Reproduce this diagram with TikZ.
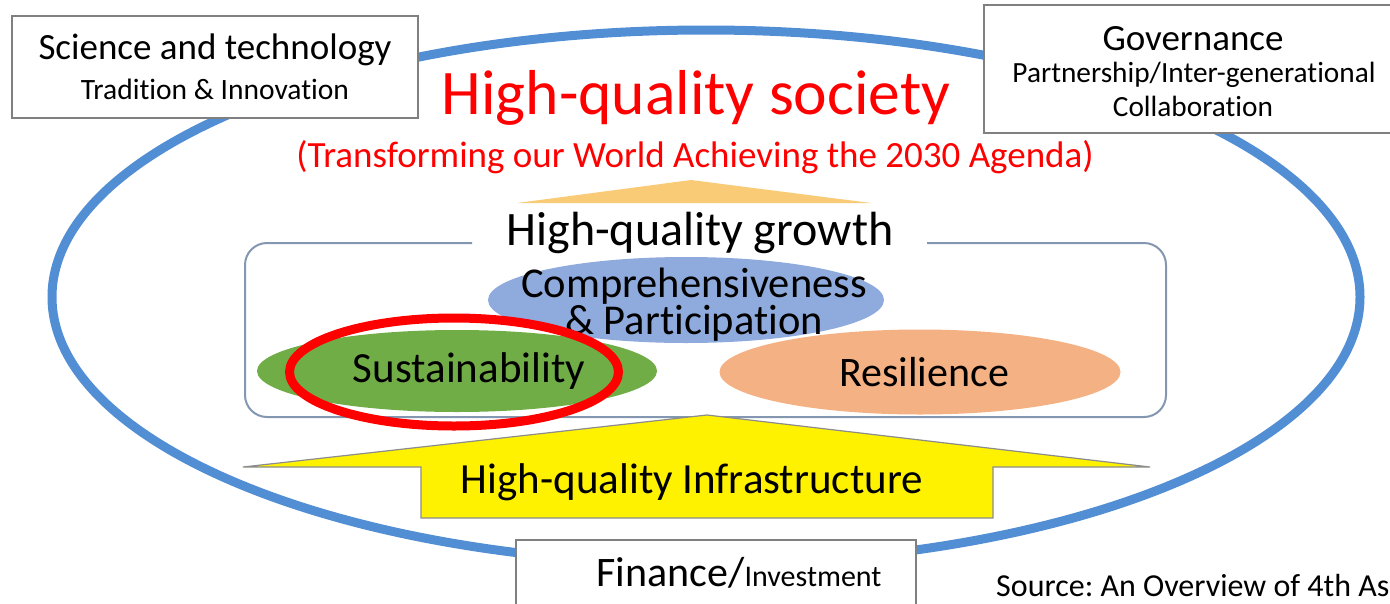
\documentclass[tikz,border=0pt]{standalone}
\usepackage{fontspec}
\setmainfont{Carlito}[Ligatures=NoCommon]
\frenchspacing
\usetikzlibrary{shapes.geometric}
\definecolor{ringblue}{RGB}{82,142,212}
\definecolor{boxgray}{RGB}{128,128,128}
\definecolor{frameblue}{RGB}{132,151,176}
\definecolor{compblue}{RGB}{143,170,220}
\definecolor{susgreen}{RGB}{112,173,71}
\definecolor{resorange}{RGB}{244,177,131}
\definecolor{triorange}{RGB}{249,203,118}
\definecolor{arrowedge}{RGB}{140,140,140}
\newcommand{\fs}[2]{\fontsize{#1}{#2}\selectfont}
\tikzset{
  infobox/.style={draw=boxgray, line width=1.5pt, fill=white},
  blob/.style={ellipse, inner sep=0pt, text=black},
  plain/.style={inner sep=0pt, align=center},
}
\begin{document}
\begin{tikzpicture}[x=1pt,y=-1pt]
\useasboundingbox (0,0) rectangle (1390,603);
\clip (0,0) rectangle (1390,603);
% outer ring
\draw[ringblue, line width=9pt] (706,297) ellipse [x radius=654pt, y radius=267pt];
% top-left box
\draw[infobox] (12,16) rectangle (418,118);
\node[plain, font=\fs{37}{44}] (sci) at (215,50) {Science and technology};
\node[plain, font=\fs{29.5}{34}] (trad) at (215,89) {Tradition \& Innovation};
% top-right box
\draw[infobox] (984,5) rectangle (1400,133);
\node[plain, font=\fs{37}{44}] (gov) at (1193,39) {Governance};
\node[plain, font=\fs{29.3}{34}] (part) at (1194,75) {Partnership/Inter-generational};
\node[plain, font=\fs{29.3}{34}] (coll) at (1193,106) {Collaboration};
% titles
\node[plain, text=red, font=\fs{63.5}{70}] (society) at (696,98) {High-quality society};
\node[plain, text=red, font=\fs{37}{42}] (agenda) at (695,157) {(Transforming our World Achieving the 2030 Agenda)};
% triangle
\fill[triorange] (517,203) -- (691,180) -- (871,203) -- cycle;
\node[plain, font=\fs{48}{54}] (growth) at (700,233) {High-quality growth};
% framed region
\draw[frameblue, line width=2pt, rounded corners=22pt]
  (472,243) -- (245,243) -- (245,417) -- (1166,417) -- (1166,243) -- (927,243);
% ellipses
\node[blob, fill=compblue, minimum width=396pt, minimum height=86pt] (comp) at (686,300) {};
\node[plain, font=\fs{42.5}{35.5}] (comptxt) at (694,305) {Comprehensiveness\\\& Participation};
\node[blob, fill=susgreen, minimum width=400pt, minimum height=82pt] (sus) at (457,371) {};
\node[plain, font=\fs{43}{48}] (sustxt) at (469,371) {Sustainability};
\node[blob, fill=resorange, minimum width=401pt, minimum height=85pt] (res) at (920,372) {};
\node[plain, font=\fs{42}{48}] (restxt) at (924,372) {Resilience};
\node[blob, draw=red, line width=9pt, minimum width=329pt, minimum height=108pt] (ring) at (454,372) {};
% infrastructure arrow
\filldraw[fill=yellow, draw=arrowedge, line width=1.2pt]
  (707,415) -- (1150,467) -- (993,467) -- (993,518) -- (421,518) -- (421,467) -- (243,467) -- cycle;
\node[plain, font=\fs{43}{48}] (infra) at (692,482) {High-quality Infrastructure};
% finance box
\draw[infobox] (516,540) rectangle (916,615);
\node[plain, font=\fs{42}{48}] (fin) at (739,573) {Finance/{\fs{30}{34}Investment}};
% source
\node[plain, anchor=west, font=\fs{32}{36}] (src) at (996,586) {Source: An Overview of 4th As};
\end{tikzpicture}
\end{document}
